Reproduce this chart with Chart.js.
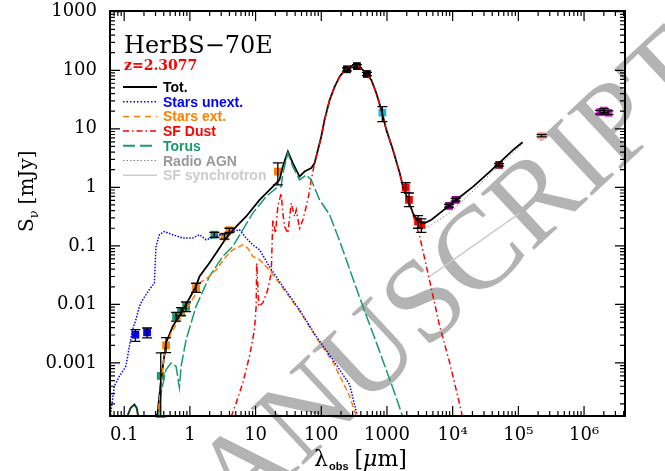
<!DOCTYPE html>
<html>
<head>
<meta charset="utf-8">
<script src="https://cdn.jsdelivr.net/npm/chart.js@4.4.1/dist/chart.umd.min.js"></script>
<style>
  html, body { margin: 0; padding: 0; background: #fff; }
  #sed { display: block; }
</style>
</head>
<body>
<canvas id="sed" width="665" height="471"></canvas>
<script>
// Valores (lambda em um, fluxo em mJy)
const totLam = [0.31, 0.323, 0.364, 0.434, 0.547, 0.734, 0.925, 1.24, 1.40, 1.98, 2.51, 3.56, 5.06, 7.19, 11.5, 18.3, 23.1, 26.0, 31.0, 36.9, 46.7, 55.6, 70.4, 79.1, 88.8, 100, 112, 134, 160, 190, 240, 342, 457, 578, 689, 822, 979, 1234, 1563, 1754, 2090, 2490, 2970, 3755, 4753, 6360, 11400, 20500, 36800, 83400, 116000];
const totFlux = [1.2e-4, 1.4e-4, 5.2e-4, 2.19e-3, 4.2e-3, 7.1e-3, 0.0112, 0.0203, 0.030, 0.0508, 0.0753, 0.136, 0.214, 0.318, 0.612, 1.03, 1.34, 2.26, 4.08, 2.59, 1.53, 1.86, 2.13, 2.59, 4.36, 7.36, 14.2, 31.1, 52.5, 77.8, 108, 128, 94.6, 68.2, 40.5, 21.0, 9.58, 4.36, 1.75, 1.03, 0.612, 0.363, 0.261, 0.245, 0.279, 0.363, 0.612, 1.03, 1.86, 4.36, 5.91];
const uvLam = [0.111, 0.125, 0.143, 0.155, 0.164];
const uvFlux = [1.2e-4, 1.7e-4, 1.95e-4, 1.7e-4, 1.2e-4];

const starsLam = [0.062, 0.0706, 0.0841, 0.106, 0.120, 0.134, 0.151, 0.170, 0.191, 0.241, 0.288, 0.305, 0.343, 0.409, 0.547, 0.776, 1.10, 1.40, 1.77, 2.51, 3.56, 5.68, 7.19, 9.06, 11.5, 16.2, 26.0, 46.7, 83.9, 150, 270, 357];
const starsFlux = [1.3e-4, 3.99e-4, 5.9e-4, 8.75e-4, 1.92e-3, 3.7e-3, 5.5e-3, 9.2e-3, 0.012, 0.0178, 0.0232, 0.0977, 0.155, 0.176, 0.155, 0.136, 0.136, 0.155, 0.127, 0.145, 0.165, 0.188, 0.136, 0.104, 0.0858, 0.0445, 0.0203, 8.1e-3, 2.84e-3, 1.14e-3, 4.27e-4, 1.2e-4];

const extLam = [0.334, 0.385, 0.434, 0.517, 0.692, 0.875, 1.17, 1.40, 1.98, 2.51, 3.56, 4.49, 6.38, 7.6, 9.06, 11.5, 16.2, 26.0, 46.7, 83.9, 150, 270, 342];
const extFlux = [1.6e-4, 8.75e-4, 1.92e-3, 3.25e-3, 5.5e-3, 8.1e-3, 0.0137, 0.0232, 0.030, 0.0391, 0.066, 0.0858, 0.104, 0.0917, 0.066, 0.058, 0.0391, 0.019, 7.7e-3, 2.7e-3, 1.05e-3, 2.7e-4, 1.2e-4];

const dustLam = [4.25, 5.06, 6.38, 8.07, 9.62, 10.2, 10.4, 11.2, 12.9, 15.3, 17.3, 18.3, 20.1, 21.8, 24.5, 26.0, 27.6, 31.0, 34.9, 39.2, 41.6, 46.7, 52.5, 62.5, 70.4, 79.1, 88.8, 100, 112, 134, 160, 190, 240, 342, 457, 578, 689, 822, 979, 1234, 1563, 1754, 2090, 2490, 3150, 3990, 5030, 6360, 9030, 12100, 14100];
const dustFlux = [1.2e-4, 2.07e-4, 4.56e-4, 1.3e-3, 3.7e-3, 9.2e-3, 0.0508, 9.2e-3, 0.0106, 0.0178, 0.0344, 0.279, 0.165, 0.47, 0.796, 0.363, 0.214, 0.165, 0.537, 0.318, 0.413, 0.201, 0.279, 0.612, 1.34, 2.59, 4.36, 7.36, 14.2, 31.1, 52.5, 77.8, 108, 128, 94.6, 68.2, 40.5, 21.0, 9.58, 4.36, 1.75, 1.03, 0.612, 0.34, 0.145, 0.0445, 0.0137, 4.2e-3, 1.0e-3, 2.53e-4, 1.2e-4];

const torLam = [0.334, 0.364, 0.434, 0.517, 0.616, 0.692, 0.734, 0.875, 1.24, 1.98, 3.16, 4.49, 6.38, 9.06, 14.5, 20.6, 24.5, 26.0, 31.0, 36.9, 46.7, 59.1, 70.4, 94.2, 134, 190, 380, 774, 1390, 1735];
const torFlux = [1.2e-4, 3.08e-4, 7.7e-4, 1.0e-3, 8.75e-4, 3.8e-4, 8.75e-4, 2.5e-3, 9.2e-3, 0.030, 0.066, 0.0977, 0.188, 0.363, 0.697, 0.97, 1.03, 1.75, 3.84, 2.26, 1.34, 1.63, 1.34, 0.612, 0.34, 0.122, 0.0135, 1.56e-3, 2.53e-4, 1.2e-4];

const agnLam = [2736, 4480, 9030, 20500, 46500, 116000];
const agnFlux = [0.167, 0.22, 0.367, 0.871, 2.15, 5.52];

const syncLam = [4480, 105000];
const syncFlux = [0.030, 0.363];

// Fotometria observada
const obsLam = [0.148, 0.223, 0.36, 0.434, 0.616, 0.734, 0.875, 1.24, 2.36, 3.36, 4.0, 21.8, 246, 349, 495, 851, 1928, 2163, 2970, 3340, 8810, 11100, 50900, 226000, 1.75e6, 2.0e6, 2.35e6];
const obsFlux = [3.04e-3, 3.33e-3, 6e-4, 2.0e-3, 6.2e-3, 7.5e-3, 9.1e-3, 0.019, 0.155, 0.145, 0.185, 1.86, 104, 118, 86.5, 18.9, 1.0, 0.612, 0.261, 0.229, 0.483, 0.612, 2.42, 7.66, 19.2, 20.5, 18.8];
const obsLo = [2.33e-3, 2.67e-3, 1.2e-4, 1.5e-3, 5.2e-3, 6.4e-3, 7.5e-3, 0.016, 0.14, 0.13, 0.17, 1.1, 98, 111, 81, 13.3, 0.82, 0.47, 0.2, 0.17, 0.46, 0.58, 2.3, 7.3, 17.8, 18.8, 17.5];
const obsHi = [3.7e-3, 3.95e-3, 1.48e-3, 2.7e-3, 7.3e-3, 8.8e-3, 0.011, 0.023, 0.17, 0.16, 0.2, 2.62, 110, 125, 92, 23.9, 1.2, 0.8, 0.33, 0.29, 0.51, 0.65, 2.55, 8.0, 20.6, 22.2, 20.2];
const obsCor = ['#0000ff', '#0000ff', '#1a9a6a', '#ff7f00', '#1a9a6a', '#1a9a6a', '#1a9a6a', '#ff7f00', '#1a9a6a', '#ff7f00', '#ff7f00', '#ff7f00', '#000000', '#000000', '#000000', '#1eb4e6', '#ff0000', '#ff0000', '#ff0000', '#ff0000', '#8b008b', '#8b008b', '#8b0000', '#ffb4b4', '#ff00ff', '#ff00ff', '#ff00ff'];

const xDecadas = [0.1, 1, 10, 100, 1000, 1e4, 1e5, 1e6];
const xRotulos = ['0.1', '1', '10', '100', '1000', '10\u2074', '10\u2075', '10\u2076'];
const yDecadas = [0.001, 0.01, 0.1, 1, 10, 100, 1000];
const yRotulos = ['0.001', '0.01', '0.1', '1', '10', '100', '1000'];

const legenda = [
    { txt: 'Tot.', cor: '#000000', dash: [], lw: 2 },
    { txt: 'Stars unext.', cor: '#0000ff', dash: [1.5, 2], lw: 1.5 },
    { txt: 'Stars ext.', cor: '#ff7f00', dash: [6, 5], lw: 1.5 },
    { txt: 'SF Dust', cor: '#ff0000', dash: [6, 3, 1.5, 3], lw: 1.5 },
    { txt: 'Torus', cor: '#1a9a6a', dash: [12, 5], lw: 2 },
    { txt: 'Radio AGN', cor: '#888888', dash: [1.5, 2], lw: 1 },
    { txt: 'SF synchrotron', cor: '#cccccc', dash: [], lw: 1.5 }
];

function pares(xs, ys) {
    return xs.map((x, i) => ({ x: x, y: ys[i] }));
}

function curva(xs, ys, cor, dash, lw) {
    return {
        type: 'line',
        data: pares(xs, ys),
        borderColor: cor,
        borderWidth: lw,
        borderDash: dash,
        pointRadius: 0,
        fill: false,
        tension: 0
    };
}

// Marca d'agua, barras de erro, moldura, marcas dos eixos e textos
const sedPlugin = {
    id: 'sedExtras',
    beforeDraw(chart) {
        const c = chart.ctx;
        c.save();
        c.translate(718, 78);
        c.rotate(-43 * Math.PI / 180);
        c.fillStyle = '#b3b3b3';
        c.font = '118px "Liberation Serif"';
        c.textAlign = 'right';
        c.textBaseline = 'alphabetic';
        c.fillText('ACCEPTED MANUSCRIPT', 0, 0);
        c.restore();
    },
    afterDatasetsDraw(chart) {
        const c = chart.ctx;
        const xs = chart.scales.x, ys = chart.scales.y;
        c.save();
        c.strokeStyle = '#000';
        c.lineWidth = 1.3;
        for (let i = 0; i < obsLam.length; i++) {
            const px = xs.getPixelForValue(obsLam[i]);
            const y1 = ys.getPixelForValue(obsLo[i]);
            const y2 = ys.getPixelForValue(obsHi[i]);
            c.beginPath();
            c.moveTo(px, y1); c.lineTo(px, y2);
            c.moveTo(px - 5, y1); c.lineTo(px + 5, y1);
            c.moveTo(px - 5, y2); c.lineTo(px + 5, y2);
            c.stroke();
        }
        c.restore();
    },
    afterDraw(chart) {
        const c = chart.ctx;
        const a = chart.chartArea;
        const xs = chart.scales.x, ys = chart.scales.y;
        c.save();
        // moldura
        c.strokeStyle = '#000';
        c.lineWidth = 2;
        c.strokeRect(a.left, a.top, a.right - a.left, a.bottom - a.top);
        // marcas menores e maiores
        c.lineWidth = 1.2;
        c.beginPath();
        for (let d = -2; d <= 7; d++) {
            for (let m = 1; m <= 9; m++) {
                const v = m * Math.pow(10, d);
                if (v < xs.min || v > xs.max) continue;
                const p = xs.getPixelForValue(v);
                const len = m === 1 ? 10 : 5;
                c.moveTo(p, a.bottom); c.lineTo(p, a.bottom - len);
                c.moveTo(p, a.top); c.lineTo(p, a.top + len);
            }
        }
        for (let d = -5; d <= 4; d++) {
            for (let m = 1; m <= 9; m++) {
                const v = m * Math.pow(10, d);
                if (v < ys.min || v > ys.max) continue;
                const p = ys.getPixelForValue(v);
                const len = m === 1 ? 10 : 5;
                c.moveTo(a.left, p); c.lineTo(a.left + len, p);
                c.moveTo(a.right, p); c.lineTo(a.right - len, p);
            }
        }
        c.stroke();

        // titulo e redshift
        c.fillStyle = '#000';
        c.textBaseline = 'alphabetic';
        c.textAlign = 'left';
        c.font = '24px "DejaVu Serif"';
        c.fillText('HerBS\u221270E', 124, 53);
        c.fillStyle = '#ff0000';
        c.font = 'bold 14px "DejaVu Serif"';
        c.fillText('z=2.3077', 124, 70);

        // legenda
        legenda.forEach((it, i) => {
            const y = 87 + i * 14.7;
            c.strokeStyle = it.cor;
            c.lineWidth = it.lw;
            c.setLineDash(it.dash);
            c.beginPath();
            c.moveTo(123, y); c.lineTo(157, y);
            c.stroke();
            c.setLineDash([]);
            c.fillStyle = it.cor;
            if (it.txt === 'Radio AGN') c.fillStyle = '#999999';
            c.font = 'bold 14px "Liberation Sans"';
            c.fillText(it.txt, 163, y + 5);
        });

        // titulo do eixo x
        c.fillStyle = '#000';
        let x0 = 314, yb = 466;
        c.font = '22px "DejaVu Serif"';
        c.fillText('\u03bb', x0, yb);
        x0 += c.measureText('\u03bb').width;
        c.font = 'bold 11px "Liberation Sans"';
        c.fillText('obs', x0 + 1, yb + 4);
        x0 += c.measureText('obs').width + 7;
        c.font = '22px "DejaVu Serif"';
        c.fillText('[', x0, yb);
        x0 += c.measureText('[').width;
        c.font = 'italic 22px "DejaVu Serif"';
        c.fillText('\u03bc', x0, yb);
        x0 += c.measureText('\u03bc').width;
        c.font = '22px "DejaVu Serif"';
        c.fillText('m]', x0, yb);

        // titulo do eixo y
        c.save();
        c.translate(33, 232);
        c.rotate(-Math.PI / 2);
        c.font = '20px "DejaVu Serif"';
        c.fillText('S', 0, 0);
        let w = c.measureText('S').width;
        c.font = '13px "DejaVu Serif"';
        c.fillText('\u03bd', w, 5);
        w += c.measureText('\u03bd').width + 6;
        c.font = '20px "DejaVu Serif"';
        c.fillText('[mJy]', w, 0);
        c.restore();

        c.restore();
    }
};

const datasets = [
    curva(syncLam, syncFlux, '#cccccc', [], 1.5),
    curva(agnLam, agnFlux, '#888888', [1.5, 2], 1),
    curva(starsLam, starsFlux, '#0000ff', [1.5, 1.5], 1.5),
    curva(extLam, extFlux, '#ff7f00', [6, 3], 1.5),
    curva(torLam, torFlux, '#1a9a6a', [12, 3], 1.5),
    curva(dustLam, dustFlux, '#ff0000', [6, 3, 1.5, 3], 1.5),
    curva(uvLam, uvFlux, '#123d20', [], 2),
    curva(totLam, totFlux, '#000000', [], 1.8),
    {
        type: 'scatter',
        data: pares(obsLam, obsFlux),
        pointStyle: 'rect',
        pointRadius: 5.5,
        pointBackgroundColor: obsCor,
        pointBorderColor: obsCor,
        pointBorderWidth: 0,
        showLine: false
    }
];

const grafico = new Chart(document.getElementById('sed'), {
    type: 'scatter',
    data: { datasets: datasets },
    options: {
        responsive: false,
        animation: false,
        clip: false,
        layout: { padding: { left: 10, right: 40, top: 11, bottom: 0 } },
        plugins: { legend: { display: false }, tooltip: { enabled: false } },
        scales: {
            x: {
                type: 'logarithmic',
                min: 0.0608,
                max: 4.2e6,
                afterBuildTicks: s => { s.ticks = xDecadas.map(v => ({ value: v })); },
                afterFit: s => { s.height = 55; s.paddingLeft = 0; s.paddingRight = 0; },
                grid: { display: false, drawTicks: false },
                border: { display: false },
                ticks: {
                    autoSkip: false,
                    maxRotation: 0,
                    padding: 9,
                    color: '#000',
                    font: { family: 'DejaVu Serif', size: 18 },
                    callback: v => { const k = xDecadas.indexOf(v); return k >= 0 ? xRotulos[k] : ''; }
                }
            },
            y: {
                type: 'logarithmic',
                min: 1.24e-4,
                max: 1030,
                afterBuildTicks: s => { s.ticks = yDecadas.map(v => ({ value: v })); },
                afterFit: s => { s.width = 100; s.paddingTop = 0; s.paddingBottom = 0; },
                grid: { display: false, drawTicks: false },
                border: { display: false },
                ticks: {
                    autoSkip: false,
                    padding: 13,
                    color: '#000',
                    font: { family: 'DejaVu Serif', size: 18 },
                    callback: v => { const k = yDecadas.indexOf(v); return k >= 0 ? yRotulos[k] : ''; }
                }
            }
        }
    },
    plugins: [sedPlugin]
});
</script>
</body>
</html>
